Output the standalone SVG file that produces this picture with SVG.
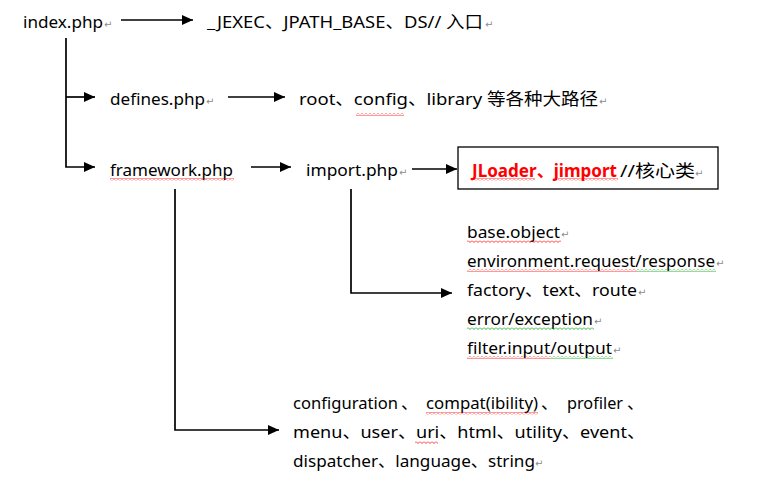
<svg xmlns="http://www.w3.org/2000/svg" width="758" height="491" viewBox="0 0 758 491">
<style>
  .t { font-family: "Noto Sans", "Noto Sans CJK SC", sans-serif; font-size: 17px; fill: #000; }
  .r { fill: #ff0000; font-weight: bold; }
  .pm { font-family: "DejaVu Sans", sans-serif; font-size: 10px; fill: #8c8c8c; }
  .ln { fill: none; stroke: #000; stroke-width: 1.7; }
  .box { fill: #fff; stroke: #000; stroke-width: 1.3; }
</style>
<defs>
  <marker id="ah" markerUnits="userSpaceOnUse" markerWidth="12" markerHeight="10" refX="11" refY="5" orient="auto">
    <path d="M0,0 L11,5 L0,10 Z" fill="#000"/>
  </marker>
  <pattern id="wr" patternUnits="userSpaceOnUse" width="4" height="3">
    <path d="M0,0.5 L2,2.5 L4,0.5" fill="none" stroke="#ff0000" stroke-width="0.8"/>
  </pattern>
  <pattern id="wg" patternUnits="userSpaceOnUse" width="4" height="3">
    <path d="M0,0.5 L2,2.5 L4,0.5" fill="none" stroke="#00a000" stroke-width="0.8"/>
  </pattern>
</defs>

<g id="connectors">
  <line class="ln" x1="121" y1="20" x2="193" y2="20" marker-end="url(#ah)"/>
  <path class="ln" d="M66,38 V167 H95" marker-end="url(#ah)"/>
  <line class="ln" x1="66" y1="97" x2="95" y2="97" marker-end="url(#ah)"/>
  <line class="ln" x1="228" y1="97" x2="285" y2="97" marker-end="url(#ah)"/>
  <line class="ln" x1="251" y1="167" x2="291" y2="167" marker-end="url(#ah)"/>
  <line class="ln" x1="412" y1="169" x2="457" y2="169" marker-end="url(#ah)"/>
  <path class="ln" d="M175,189 V430 H279" marker-end="url(#ah)"/>
  <path class="ln" d="M351,189 V293 H452" marker-end="url(#ah)"/>
</g>

<g id="index">
  <text class="t" x="23" y="28" textLength="80" lengthAdjust="spacingAndGlyphs">index.php</text>
  <text class="pm" x="104" y="28">↵</text>
</g>

<g id="jexec">
  <text class="t" x="207" y="28" textLength="276" lengthAdjust="spacingAndGlyphs">_JEXEC、JPATH_BASE、DS// 入口</text>
  <text class="pm" x="485" y="28">↵</text>
</g>

<g id="defines">
  <text class="t" x="110" y="105" textLength="95" lengthAdjust="spacingAndGlyphs">defines.php</text>
  <text class="pm" x="206" y="105">↵</text>
</g>

<g id="paths">
  <text class="t" x="299" y="105" textLength="299" lengthAdjust="spacingAndGlyphs">root、config、library 等各种大路径</text>
  <text class="pm" x="599" y="105">↵</text>
  <rect x="356" y="113" width="48" height="3" fill="url(#wr)"/>
</g>

<g id="framework">
  <text class="t" x="110" y="176" textLength="123" lengthAdjust="spacingAndGlyphs">framework.php</text>
  <rect x="110" y="178" width="124" height="3" fill="url(#wr)"/>
</g>

<g id="import">
  <text class="t" x="306" y="176" textLength="92" lengthAdjust="spacingAndGlyphs">import.php</text>
  <text class="pm" x="399" y="176">↵</text>
</g>

<g id="core">
  <rect class="box" x="458" y="147" width="260" height="42"/>
  <text class="t r" x="472" y="177" textLength="145" lengthAdjust="spacingAndGlyphs">JLoader、jimport</text>
  <text class="t" x="620" y="177" textLength="75" lengthAdjust="spacingAndGlyphs">//核心类</text>
  <text class="pm" x="695" y="177">↵</text>
  <rect x="472" y="178" width="63" height="3" fill="url(#wr)"/>
  <rect x="558" y="178" width="60" height="3" fill="url(#wr)"/>
</g>

<g id="import-list">
  <text class="t" x="467" y="238" textLength="93" lengthAdjust="spacingAndGlyphs">base.object</text>
  <text class="pm" x="561" y="238">↵</text>
  <rect x="467" y="240" width="94" height="3" fill="url(#wr)"/>

  <text class="t" x="467" y="267" textLength="248" lengthAdjust="spacingAndGlyphs">environment.request/response</text>
  <text class="pm" x="716" y="267">↵</text>
  <rect x="467" y="269" width="170" height="3" fill="url(#wr)"/>
  <rect x="637" y="269" width="79" height="3" fill="url(#wg)"/>

  <text class="t" x="467" y="296" textLength="170" lengthAdjust="spacingAndGlyphs">factory、text、route</text>
  <text class="pm" x="638" y="296">↵</text>

  <text class="t" x="467" y="325" textLength="126" lengthAdjust="spacingAndGlyphs">error/exception</text>
  <text class="pm" x="594" y="325">↵</text>
  <rect x="467" y="327" width="127" height="3" fill="url(#wg)"/>

  <text class="t" x="467" y="354" textLength="145" lengthAdjust="spacingAndGlyphs">filter.input/output</text>
  <text class="pm" x="613" y="354">↵</text>
  <rect x="467" y="356" width="83" height="3" fill="url(#wr)"/>
  <rect x="550" y="356" width="63" height="3" fill="url(#wg)"/>
</g>

<g id="framework-list">
  <text class="t" x="293" y="409" textLength="105" lengthAdjust="spacingAndGlyphs">configuration</text>
  <text class="t" x="401" y="409">、</text>
  <text class="t" x="426" y="409" textLength="112" lengthAdjust="spacingAndGlyphs">compat(ibility)</text>
  <text class="t" x="541" y="409">、</text>
  <text class="t" x="567" y="409" textLength="56" lengthAdjust="spacingAndGlyphs">profiler</text>
  <text class="t" x="627" y="409">、</text>
  <rect x="426" y="412" width="112" height="3" fill="url(#wr)"/>

  <text class="t" x="293" y="438" textLength="352" lengthAdjust="spacingAndGlyphs">menu、user、uri、html、utility、event、</text>
  <rect x="415" y="441" width="23" height="3" fill="url(#wr)"/>

  <text class="t" x="293" y="467" textLength="242" lengthAdjust="spacingAndGlyphs">dispatcher、language、string</text>
  <text class="pm" x="535" y="467">↵</text>
</g>
</svg>
